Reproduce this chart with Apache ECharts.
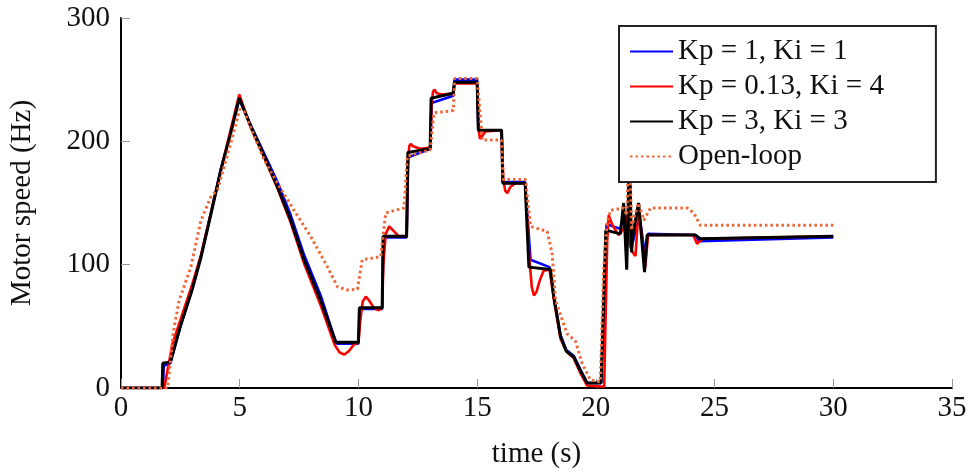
<!DOCTYPE html>
<html>
<head>
<meta charset="utf-8">
<script src="https://cdn.jsdelivr.net/npm/echarts@6/dist/echarts.min.js"></script>
<style>
  html, body { margin: 0; padding: 0; background: #fff; }
  #chart { width: 972px; height: 474px; }
</style>
</head>
<body>
<div id="chart"></div>
<script>
// values, [time s, speed Hz]
var seriesNames = ['Kp = 1, Ki = 1', 'Kp = 0.13, Ki = 4', 'Kp = 3, Ki = 3', 'Open-loop'];
var xTicks = [0, 5, 10, 15, 20, 25, 30, 35];
var yTicks = [0, 100, 200, 300];

var kp1 = [[0,0],[1.77,0],[1.8,18],[2.08,20],[2.5,50],[3.0,80],[3.37,107],[3.8,143],[4.21,178],[4.6,206],[4.98,234],
  [5.47,213],[6.03,190],[6.59,167],[7.15,140],[7.71,108],[8.41,75],[9.0,40],[9.1,36],[10.0,36],[10.05,64],[11.0,64],
  [11.05,122],[12.03,122],[12.1,187],[13.03,194],[13.08,231],[14.0,237],[14.05,250],[15.0,250],[15.05,209],[16.03,209],
  [16.08,167],[17.02,167],[17.25,104],[18.05,98],[18.23,74],[18.51,43],[18.75,31],[19.07,26],[19.35,15],[19.63,4],
  [20.22,4],[20.45,133],[21.03,129],[21.17,140],[21.3,115],[21.42,135],[21.55,118],[21.7,130],[21.85,138],[22.05,110],
  [22.2,125],[24.2,124],[24.35,119],[30.0,122]];

var kp013 = [[0,0],[1.82,0],[2.17,36],[2.5,55],[3.0,84],[3.37,108],[3.8,143],[4.21,177],[4.6,208],[4.98,238],
  [5.47,211],[6.03,187],[6.59,162],[7.15,134],[7.71,101],[8.41,67],[9.0,35],[9.2,29],[9.4,27],[9.6,30],[9.8,35],
  [10.0,37],[10.08,55],[10.18,70],[10.31,74],[10.45,71],[10.65,65],[10.85,63],[11.0,65],[11.05,100],[11.15,125],
  [11.3,131],[11.45,128],[11.7,123],[12.03,123],[12.08,180],[12.14,196],[12.2,198],[12.3,196],[12.6,194],[13.03,195],
  [13.08,230],[13.14,240],[13.2,242],[13.3,239],[13.5,238],[14.0,239],[14.05,247],[15.0,247],[15.06,210],[15.12,202],
  [15.2,202],[15.35,208],[16.03,209],[16.1,170],[16.18,160],[16.27,158],[16.4,163],[16.6,166],[17.02,166],[17.1,140],
  [17.2,105],[17.3,82],[17.39,75],[17.5,78],[17.65,88],[17.8,95],[18.05,96],[18.23,72],[18.51,40],[18.75,30],
  [19.07,24],[19.35,12],[19.63,2],[20.35,1],[20.48,120],[20.54,140],[20.7,132],[20.96,124],[21.17,129],[21.3,140],
  [21.45,115],[21.55,110],[21.67,107],[21.8,147],[22.08,98],[22.2,124],[24.1,124],[24.26,117],[24.5,121],[30.0,123]];

var kp3 = [[0,0],[1.73,0],[1.76,20],[2.08,21],[2.5,50],[3.0,80],[3.37,106],[3.8,142],[4.21,177],[4.6,205],[4.98,235],
  [5.47,212],[6.03,188],[6.59,163],[7.15,136],[7.71,104],[8.41,71],[9.05,37],[10.0,37],[10.04,65],[11.0,65],[11.04,123],
  [12.03,123],[12.08,191],[13.02,194],[13.06,235],[13.99,239],[14.04,248],[15.0,248],[15.05,209],[16.03,209],[16.08,166],
  [17.02,166],[17.18,98],[18.09,96],[18.23,74],[18.51,42],[18.75,30],[19.07,25],[19.35,14],[19.63,4],[20.22,4],
  [20.42,128],[21.03,125],[21.17,150],[21.3,96],[21.42,195],[21.5,110],[21.59,128],[21.8,150],[22.05,94],[22.16,124],
  [24.2,124],[24.4,121],[30.0,123]];

var openLoop = [[0,0],[1.96,0],[2.05,15],[2.2,45],[2.45,71],[2.94,98],[3.37,136],[3.79,155],[4.07,161],[4.35,180],
  [4.77,209],[5.0,226],[5.19,224],[6.03,185],[6.59,166],[7.29,144],[7.99,123],[8.7,98],[9.12,82],[9.54,79.5],[9.96,80],
  [10.16,104],[10.94,106.5],[11.15,142],[11.92,146],[12.06,188],[13.02,193],[13.18,223],[14.0,225],[14.05,251],
  [15.0,251],[15.22,201],[16.02,201],[16.1,169],[17.04,169],[17.25,131],[17.95,127],[18.16,109],[18.3,71],[18.79,44],
  [19.14,38],[19.42,20],[19.77,6.5],[20.19,5],[20.33,96],[20.47,133],[20.61,144],[21.17,146],[21.3,140],[21.42,205],
  [21.5,128],[21.6,138],[21.8,150],[22.02,136],[22.3,146],[23.84,146],[24.12,142],[24.4,132],[30.0,132]];

var serif = '"Liberation Serif", "DejaVu Serif", serif';

var chart = echarts.init(document.getElementById('chart'));

function line(name, data, color, width, type) {
    return {
        name: name,
        type: 'line',
        data: data,
        showSymbol: false,
        symbol: 'none',
        color: color,
        lineStyle: { color: color, width: width, type: type || 'solid' }
    };
}

function axisBase() {
    return {
        type: 'value',
        axisLine: { show: true, lineStyle: { color: '#000', width: 2 } },
        axisTick: { show: true, inside: true, length: 9, lineStyle: { color: '#999', width: 1 } },
        splitLine: { show: false },
        nameTextStyle: { fontFamily: serif, fontSize: 29, color: '#111' }
    };
}

var xAxis = axisBase();
xAxis.min = xTicks[0];
xAxis.max = xTicks[xTicks.length - 1];
xAxis.interval = 5;
xAxis.name = 'time (s)';
xAxis.nameLocation = 'middle';
xAxis.nameGap = 52;
xAxis.axisLabel = { fontFamily: serif, fontSize: 29, color: '#111', margin: 6 };

var yAxis = axisBase();
yAxis.min = yTicks[0];
yAxis.max = yTicks[yTicks.length - 1];
yAxis.interval = 100;
yAxis.name = 'Motor speed (Hz)';
yAxis.nameLocation = 'middle';
yAxis.nameGap = 84;
yAxis.nameRotate = 90;
yAxis.axisLabel = { fontFamily: serif, fontSize: 29, color: '#111', margin: 11 };

var option = {
    animation: false,
    backgroundColor: '#fff',
    grid: { left: 120, right: 20, top: 18, bottom: 86 },
    legend: {
        data: seriesNames,
        orient: 'vertical',
        left: 619,
        top: 26,
        padding: [8, 52, 8, 10],
        itemGap: 0,
        itemWidth: 43,
        itemHeight: 14,
        itemStyle: { opacity: 0 },
        backgroundColor: '#fff',
        borderColor: '#222',
        borderWidth: 2,
        borderRadius: 0,
        textStyle: { fontFamily: serif, fontSize: 29, color: '#111', lineHeight: 35 }
    },
    xAxis: xAxis,
    yAxis: yAxis,
    series: [
        line(seriesNames[0], kp1, '#0000ff', 2.6),
        line(seriesNames[1], kp013, '#ff0000', 2.6),
        line(seriesNames[2], kp3, '#000000', 3),
        line(seriesNames[3], openLoop, '#ee6636', 3, [2.5, 3])
    ]
};

chart.setOption(option);
</script>
</body>
</html>
